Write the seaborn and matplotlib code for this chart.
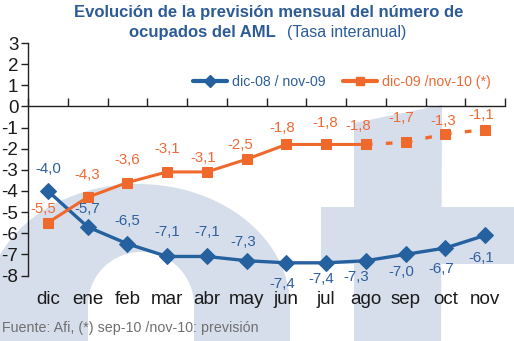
import numpy as np
import matplotlib
matplotlib.use("Agg")
import matplotlib.pyplot as plt
import seaborn as sns
from matplotlib.lines import Line2D
from matplotlib.patches import Polygon

# ---- data ----
months = ["dic", "ene", "feb", "mar", "abr", "may", "jun", "jul", "ago", "sep", "oct", "nov"]
serie_0809 = [-4.0, -5.7, -6.5, -7.1, -7.1, -7.3, -7.4, -7.4, -7.3, -7.0, -6.7, -6.1]
serie_0910 = [-5.5, -4.3, -3.6, -3.1, -3.1, -2.5, -1.8, -1.8, -1.8, -1.7, -1.3, -1.1]
forecast_start = 8  # ago -> nov drawn dashed (sep-10 / nov-10 forecast)
label_0809 = "dic-08 / nov-09"
label_0910 = "dic-09 /nov-10 (*)"
yticks = list(range(-8, 4))

# ---- style ----
BLUE = "#25609f"
ORANGE = "#f0692c"
BLUE_TXT = "#2f5f9c"
ORANGE_TXT = "#ee6a36"
TITLE_C = "#2d5b98"
WM = "#d6deeb"

sns.set_theme(style="white")
plt.rcParams["font.family"] = ["Liberation Sans", "DejaVu Sans"]

W, H = 514, 341
fig = plt.figure(figsize=(W / 100, H / 100), dpi=100)
fig.patch.set_facecolor("white")

# background watermark (af logo)
bg = fig.add_axes([0, 0, 1, 1], zorder=0)
bg.set_xlim(0, W)
bg.set_ylim(H, 0)
bg.axis("off")
th = np.linspace(np.pi, 0, 80)
cx, cy, a, b = 138, 306, 152, 122
outer = [(cx - a, H + 5)] + list(zip(cx + a * np.cos(th), cy - b * np.sin(th))) + [(cx + a, H + 5)]
bg.add_patch(Polygon(outer, closed=True, fc=WM, ec="none"))
ix, iy, r = 141, 305, 53
inner = [(ix - r, H + 5)] + list(zip(ix + r * np.cos(th), iy - r * np.sin(th))) + [(ix + r, H + 5)]
bg.add_patch(Polygon(inner, closed=True, fc="white", ec="none"))
bg.add_patch(Polygon([(354, 123), (442, 105), (441, H + 5), (354, H + 5)], closed=True, fc=WM, ec="none"))
bg.add_patch(Polygon([(321, 207), (W + 5, 207), (W + 5, 264), (321, 264)], closed=True, fc=WM, ec="none"))

# main axes
ax = fig.add_axes([28 / W, (H - 275.5) / H, 477 / W, 232.5 / H], zorder=1)
ax.patch.set_alpha(0)

x = np.arange(len(months))
sns.lineplot(x=x, y=serie_0809, ax=ax, color=BLUE, lw=2.4, marker="D", markersize=8.5,
             markeredgecolor=BLUE, legend=False)
sns.lineplot(x=x[:forecast_start + 1], y=serie_0910[:forecast_start + 1], ax=ax, color=ORANGE,
             lw=2.2, marker="s", markersize=7, markeredgecolor=ORANGE, legend=False)
sns.lineplot(x=x[forecast_start:], y=serie_0910[forecast_start:], ax=ax, color=ORANGE,
             lw=2.4, marker="s", markersize=7, markeredgecolor=ORANGE, legend=False,
             linestyle=(0, (2.0, 4.0)))

ax.set_xlim(-0.5, len(months) - 0.5)
ax.set_ylim(-8, 3)
ax.set_yticks(yticks)
ax.set_yticklabels([str(t) for t in yticks])
ax.tick_params(axis="y", direction="out", length=5, width=1, color="#222222",
               labelsize=13.5, labelcolor="#1a1a1a", pad=2, left=True)
for s in ["top", "right"]:
    ax.spines[s].set_visible(False)
ax.spines["left"].set_color("#222222")
ax.spines["left"].set_linewidth(1)
ax.spines["bottom"].set_position(("data", 0))
ax.spines["bottom"].set_color("#222222")
ax.spines["bottom"].set_linewidth(1)
ax.set_xticks(np.arange(-0.5, len(months)))
ax.tick_params(axis="x", direction="in", length=6, width=1, color="#222222",
               labelbottom=False, bottom=True)
ax.grid(False)
ax.set_xlabel("")
ax.set_ylabel("")

for i, m in enumerate(months):
    ax.text(i, -0.105, m, transform=ax.get_xaxis_transform(), ha="center", va="center",
            fontsize=13.5, color="#1a1a1a")

# data labels (offsets in pixels)
off_b = [(0, 22), (0, 18), (0, 23), (0, 24), (0, 24), (-3, 19), (-4, -21), (-5, -16),
         (-10, -16), (-4, -18), (-4, -21), (-4, -23)]
off_o = [(-5, 14), (0, 22), (0, 22), (0, 23), (-4, 14), (-6, 14), (-4, 16), (-1, 21),
         (-8, 18), (-4, 24), (-2, 13), (-4, 15)]
for i in range(len(months)):
    dx, dy = off_b[i]
    ax.annotate(f"{serie_0809[i]:.1f}".replace(".", ","), (x[i], serie_0809[i]),
                xytext=(dx * 0.72, dy * 0.72), textcoords="offset points",
                ha="center", va="center", fontsize=10.8, color=BLUE_TXT)
    dx, dy = off_o[i]
    ax.annotate(f"{serie_0910[i]:.1f}".replace(".", ","), (x[i], serie_0910[i]),
                xytext=(dx * 0.72, dy * 0.72), textcoords="offset points",
                ha="center", va="center", fontsize=10.8, color=ORANGE_TXT)

handles = [Line2D([], [], color=BLUE, lw=3, marker="D", markersize=6),
           Line2D([], [], color=ORANGE, lw=3, marker="s", markersize=6)]
ax.legend(handles, [label_0809, label_0910], loc="center left",
          bbox_to_anchor=((193 - 28) / 477, (275.5 - 82) / 232.5), ncol=2, frameon=False,
          fontsize=10.2, handlelength=2.4, handletextpad=0.35, columnspacing=1.2,
          borderpad=0, borderaxespad=0, labelcolor=[BLUE_TXT, ORANGE_TXT])

# titles
fig.text(269 / W, 1 - 13 / H, "Evolución de la previsión mensual del número de",
         ha="center", va="center", fontsize=12, fontweight="bold", color=TITLE_C)
fig.text(276 / W, 1 - 33 / H, "ocupados del AML", ha="right", va="center",
         fontsize=12, fontweight="bold", color=TITLE_C)
fig.text(287 / W, 1 - 33 / H, "(Tasa interanual)", ha="left", va="center",
         fontsize=11.5, color=TITLE_C)
fig.text(2 / W, 1 - 328 / H, "Fuente: Afi, (*) sep-10 /nov-10: previsión", ha="left",
         va="center", fontsize=10.3, color="#707070")

fig.savefig("out.png", dpi=100)
